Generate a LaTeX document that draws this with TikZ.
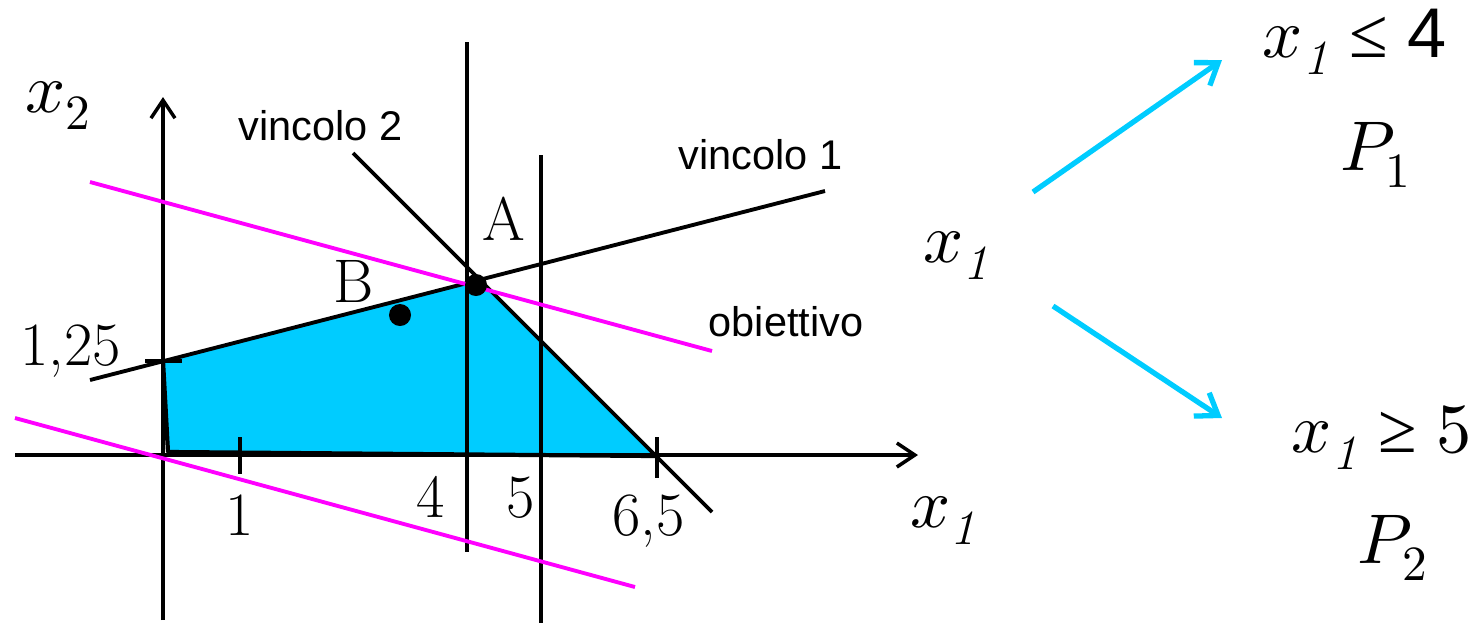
\documentclass[tikz,border=0pt]{standalone}
\usepackage{amsmath}
\usepackage{fontspec}
\usepackage{unicode-math}
\setmathfont{Latin Modern Math}
\setsansfont{Liberation Sans}
\newfontfamily\relfont{Liberation Serif}
\usetikzlibrary{arrows.meta}
\definecolor{feascyan}{RGB}{0,204,255}
\definecolor{objmagenta}{RGB}{255,0,255}
\newcommand{\xone}{x_{\text{\itshape 1}}}
\newcommand{\smallrel}[1]{\mathrel{\text{\relfont #1}}}

\begin{document}
\begin{tikzpicture}[
    x=0.01cm, y=-0.01cm,
    axis/.style={-{Straight Barb[length=1.8mm,width=2.4mm]}, line width=1pt},
    vincolo/.style={line width=1.1pt},
    bound/.style={line width=1.3pt},
    edge/.style={line width=1.2pt, line join=round},
    obj/.style={draw=objmagenta, line width=1.1pt},
    tickmark/.style={line width=1.3pt},
    branch/.style={-{Straight Barb[length=2mm,width=2.8mm]}, draw=feascyan, line width=1.5pt},
    ptdot/.style={circle, fill=black, minimum size=0.22cm, inner sep=0pt},
    mathlbl/.style={font=\fontsize{20}{24}\selectfont, inner sep=0pt},
    numlbl/.style={font=\fontsize{17.5}{21}\selectfont, inner sep=0pt},
    txtlbl/.style={font=\sffamily\fontsize{11.8}{14}\selectfont, inner sep=0pt}
]
\useasboundingbox (0,0) rectangle (1479,623);
% feasible region
\fill[feascyan] (163,361) -- (479,279) -- (657,456) -- (168,452) -- cycle;
\draw[edge] (163,361) -- (168,452) -- (657,456);
% axes
\draw[axis] (15,455) -- (918,455);
\draw[axis] (163,620) -- (163,97);
% constraints
\draw[vincolo] (90,380) -- (825,191);
\draw[vincolo] (353,153) -- (712,512);
% branching bounds x1<=4, x1>=5
\draw[bound] (467,42) -- (467,552);
\draw[bound] (541,155) -- (541,623);
% objective lines
\draw[obj] (90,182) -- (712,351);
\draw[obj] (15,418) -- (635,587);
% ticks
\draw[tickmark] (145,361) -- (182,361);
\draw[tickmark] (240,437) -- (240,474);
\draw[tickmark] (657,437) -- (657,478);
% points
\node[ptdot] (ptA) at (476,285) {};
\node[ptdot] (ptB) at (400,315) {};
\node[numlbl, anchor=base] (lblA) at (504,240) {A};
\node[numlbl, anchor=base] (lblB) at (354,302) {B};
% axis labels
\node[mathlbl, anchor=base west] (x2lbl) at (25,112) {$x_2$};
\node[mathlbl, anchor=base west] (x1lbl) at (910,527) {$\xone$};
\node[numlbl, anchor=base west] (v125) at (20,365) {1,25};
\node[numlbl, anchor=base] (v1) at (240,535) {1};
\node[numlbl, anchor=base] (v4) at (431,517) {4};
\node[numlbl, anchor=base] (v5) at (521,517) {5};
\node[numlbl, anchor=base west] (v65) at (612,535) {6,5};
\node[txtlbl, anchor=base west] (vinc2) at (238,140) {vincolo 2};
\node[txtlbl, anchor=base west] (vinc1) at (678,169) {vincolo 1};
\node[txtlbl, anchor=base west] (obiet) at (708,336) {obiettivo};
% branching
\node[mathlbl, anchor=base west] (branchvar) at (923,262) {$\xone$};
\node[mathlbl, anchor=base east] (leq4) at (1447,57) {$\xone \smallrel{≤} \text{\sffamily 4}$};
\node[mathlbl, anchor=base west] (prob1) at (1340,170) {$P_1$};
\node[mathlbl, anchor=base east] (geq5) at (1472,452) {$\xone \smallrel{≥} 5$};
\node[mathlbl, anchor=base west] (prob2) at (1357,563) {$P_2$};
\coordinate (upstart) at (1033,192);
\coordinate (upend) at (1222,60);
\coordinate (dnstart) at (1053,306);
\coordinate (dnend) at (1222,418);
\draw[branch] (upstart) -- (upend);
\draw[branch] (dnstart) -- (dnend);
\end{tikzpicture}
\end{document}
